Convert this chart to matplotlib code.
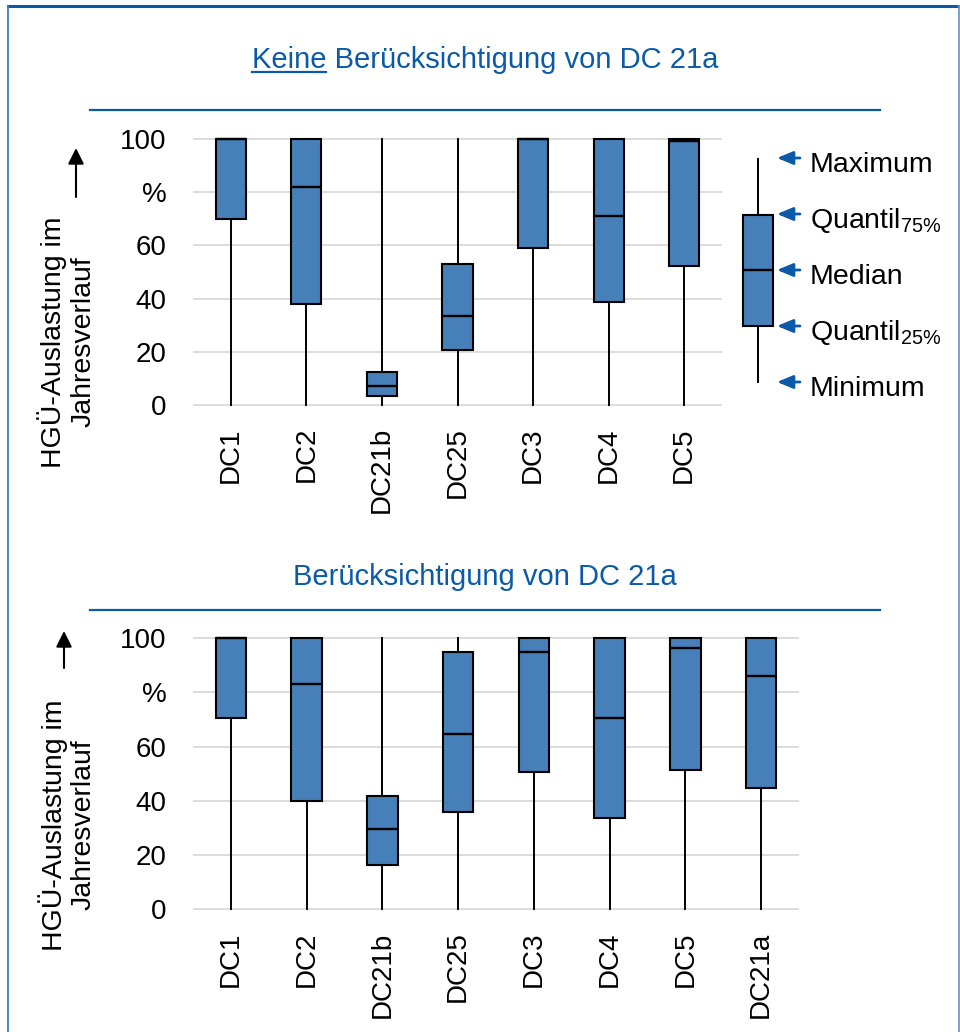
import matplotlib
matplotlib.use("Agg")
import matplotlib.pyplot as plt
from matplotlib.lines import Line2D
from matplotlib.patches import FancyArrowPatch

plt.rcParams['font.family'] = ['Liberation Sans', 'DejaVu Sans']
plt.rcParams['mathtext.fontset'] = 'custom'
plt.rcParams['mathtext.rm'] = 'Liberation Sans'
plt.rcParams['mathtext.default'] = 'rm'

# Data: box plot statistics (percent)
cats_top = ['DC1', 'DC2', 'DC21b', 'DC25', 'DC3', 'DC4', 'DC5']
min_top = [0, 0, 0, 0, 0, 0, 0]
q1_top = [70, 38, 3.5, 20.8, 59, 38.6, 52.2]
med_top = [100, 82, 7, 33.3, 100, 70.9, 99.4]
q3_top = [100, 100, 12.3, 52.9, 100, 100, 100]
max_top = [100, 100, 100, 100, 100, 100, 100]

cats_bot = ['DC1', 'DC2', 'DC21b', 'DC25', 'DC3', 'DC4', 'DC5', 'DC21a']
min_bot = [0, 0, 0, 0, 0, 0, 0, 0]
q1_bot = [70.6, 39.8, 16.2, 36.0, 50.7, 33.8, 51.3, 44.8]
med_bot = [100, 83.0, 29.5, 64.7, 95.0, 70.6, 96.4, 86.0]
q3_bot = [100, 100, 41.8, 94.8, 100, 100, 100, 100]
max_bot = [100, 100, 100, 100, 100, 100, 100, 100]

yticks = [0, 20, 40, 60, 80, 100]
ytick_labels = ['0', '20', '40', '60', '%', '100']

legend_labels = ['Minimum', 'Quantil$_{25\\%}$', 'Median', 'Quantil$_{75\\%}$', 'Maximum']

W, H = 960, 1032
BLUE = '#0b5aa8'
BOX = '#4780b9'

fig = plt.figure(figsize=(W / 100, H / 100), dpi=100)


def fbox(l, t, r, b):
    # pixel box (from top-left) -> figure fraction rect
    return [l / W, 1 - b / H, (r - l) / W, (b - t) / H]


def fy(y):
    return 1 - y / H


def draw_boxes(ax, cats, mn, q1, med, q3, mx):
    stats = []
    for c, a, b, m, d, e in zip(cats, mn, q1, med, q3, mx):
        stats.append(dict(label=c, whislo=a, q1=b, med=m, q3=d, whishi=e))
    ax.bxp(stats, positions=range(len(cats)), widths=0.4, patch_artist=True,
           showfliers=False, showcaps=False,
           boxprops=dict(facecolor=BOX, edgecolor='black', linewidth=1.5),
           medianprops=dict(color='black', linewidth=1.7),
           whiskerprops=dict(color='black', linewidth=1.4))
    ax.set_xlim(-0.5, len(cats) - 0.5)
    ax.set_ylim(-1, 101)
    ax.set_yticks(yticks, ytick_labels)
    ax.set_xticks(range(len(cats)), cats, rotation=90)
    ax.tick_params(axis='y', length=0, labelsize=20, pad=19)
    ax.tick_params(axis='x', length=0, labelsize=20, pad=14)
    for s in ax.spines.values():
        s.set_visible(False)
    ax.yaxis.grid(True, color='#d9d9d9', linewidth=1.3)
    ax.set_axisbelow(True)


# top chart
ax1 = fig.add_axes(fbox(193, 139 - 2.66, 722, 405 + 2.66))
draw_boxes(ax1, cats_top, min_top, q1_top, med_top, q3_top, max_top)

# bottom chart
ax2 = fig.add_axes(fbox(193, 638 - 2.71, 799, 909.3 + 2.71))
draw_boxes(ax2, cats_bot, min_bot, q1_bot, med_bot, q3_bot, max_bot)

# y labels with arrows
for cx, cy, ax_x, y0, y1 in [(67, 342, 76, 197, 148), (67.5, 825, 64, 668, 631)]:
    fig.text(cx / W, fy(cy), 'HGÜ-Auslastung im\nJahresverlauf', rotation=90,
             ha='center', va='center', multialignment='center', fontsize=20.5,
             linespacing=1.15)
    fig.add_artist(FancyArrowPatch((ax_x / W, fy(y0)), (ax_x / W, fy(y1)),
                                   transform=fig.transFigure,
                                   arrowstyle='-|>,head_length=0.6,head_width=0.3',
                                   mutation_scale=16, color='black', lw=1.5,
                                   shrinkA=0, shrinkB=0))

# titles
t1 = fig.text(485 / W, fy(68), 'Keine Berücksichtigung von DC 21a', ha='center',
              va='baseline', fontsize=21, color=BLUE)
fig.text(485 / W, fy(585), 'Berücksichtigung von DC 21a', ha='center',
         va='baseline', fontsize=21, color=BLUE)
for y in (110, 610):
    fig.add_artist(Line2D([90 / W, 880 / W], [fy(y), fy(y)], color=BLUE, lw=1.6))

# underline "Keine"
fig.canvas.draw()
r = fig.canvas.get_renderer()
bb = t1.get_window_extent(r)
tmp = fig.text(0, 0, 'Keine', fontsize=21)
wk = tmp.get_window_extent(r).width
tmp.remove()
fig.add_artist(Line2D([bb.x0 / W, (bb.x0 + wk) / W], [fy(72), fy(72)], color=BLUE, lw=1.6))

# explanation box (legend)
axl = fig.add_axes(fbox(720, 150, 795, 391))
axl.bxp([dict(whislo=0, q1=1, med=2, q3=3, whishi=4)], positions=[0], widths=0.4,
        patch_artist=True, showfliers=False, showcaps=False,
        boxprops=dict(facecolor=BOX, edgecolor='black', linewidth=1.5),
        medianprops=dict(color='black', linewidth=1.7),
        whiskerprops=dict(color='black', linewidth=1.4))
axl.set_xlim(-0.5, 0.5)
axl.set_ylim(-0.161, 4.161)
axl.axis('off')

arrow_y = [382, 326, 270, 214, 158]
for lab, y in zip(legend_labels, arrow_y):
    fig.add_artist(FancyArrowPatch((800 / W, fy(y)), (777 / W, fy(y)),
                                   transform=fig.transFigure,
                                   arrowstyle='-|>,head_length=0.6,head_width=0.25',
                                   mutation_scale=16, color=BLUE, lw=2,
                                   shrinkA=0, shrinkB=0))
    fig.text(810 / W, fy(y + 14), lab, ha='left', va='baseline', fontsize=20.5)

# frame
fig.add_artist(Line2D([8 / W, 959 / W], [fy(6), fy(6)], color=BLUE, lw=2.2))
fig.add_artist(Line2D([8 / W, 8 / W], [fy(6), 0], color='#3f7cc4', lw=1.3))
fig.add_artist(Line2D([959 / W, 959 / W], [fy(6), 0], color='#6f9ad0', lw=1.3))

fig.savefig('out.png', dpi=100)
